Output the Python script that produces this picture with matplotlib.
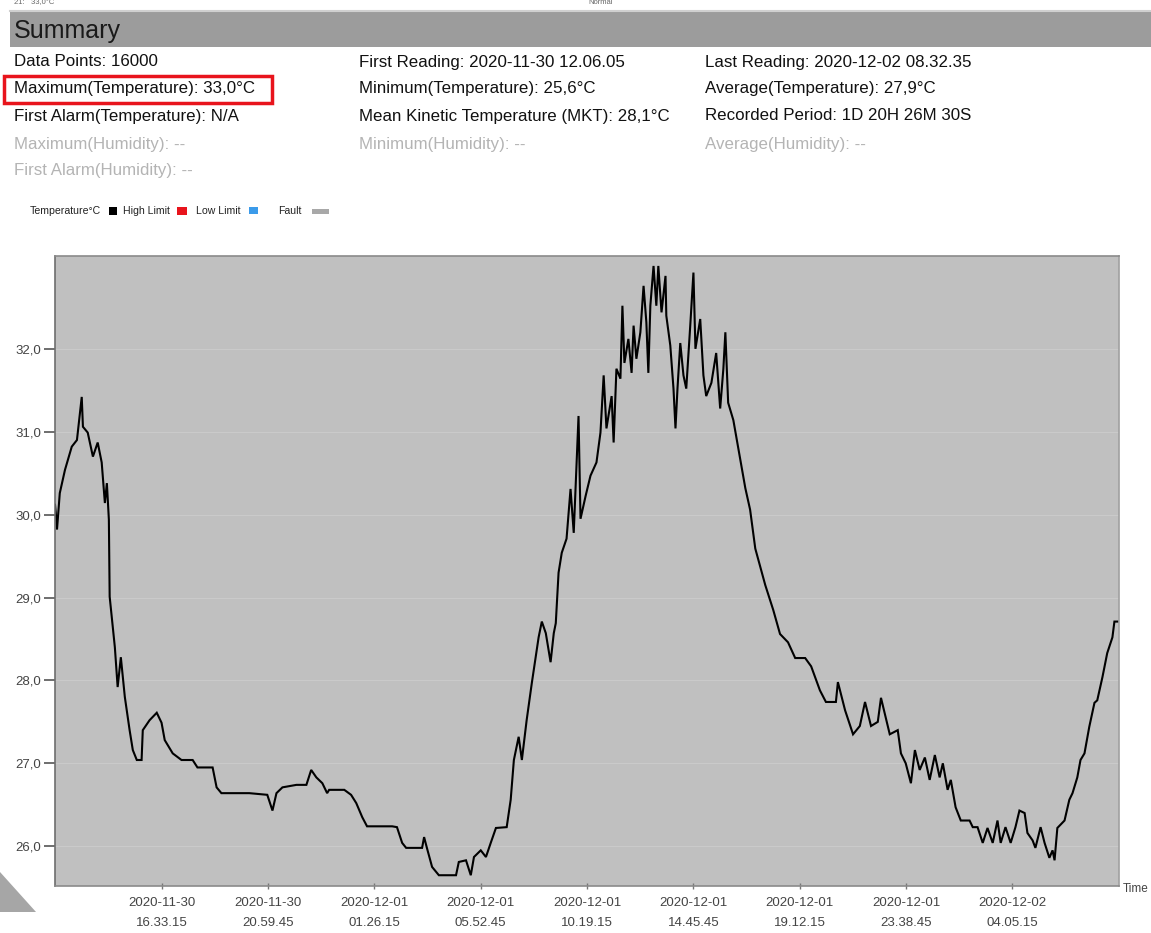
import matplotlib
matplotlib.use("Agg")
import matplotlib.pyplot as plt
from matplotlib.patches import Rectangle, Polygon
import pandas as pd

# Summary texts (three columns)
col1 = ["Data Points: 16000", "Maximum(Temperature): 33,0°C", "First Alarm(Temperature): N/A",
        "Maximum(Humidity): --", "First Alarm(Humidity): --"]
col2 = ["First Reading: 2020-11-30 12.06.05", "Minimum(Temperature): 25,6°C",
        "Mean Kinetic Temperature (MKT): 28,1°C", "Minimum(Humidity): --"]
col3 = ["Last Reading: 2020-12-02 08.32.35", "Average(Temperature): 27,9°C",
        "Recorded Period: 1D 20H 26M 30S", "Average(Humidity): --"]

first_reading = "2020-11-30 12:06:05"
last_reading = "2020-12-02 08:32:35"

# temperature trace (minutes after first reading, degC)
minutes = [0, 2, 5, 12, 25, 42, 55, 67, 70, 82, 95, 107, 117, 125, 130, 135, 137, 150, 157, 165,
           175, 187, 195, 205, 217, 220, 237, 255, 267, 275, 295, 317, 345, 357, 395, 405, 417, 487,
           532, 545, 555, 570, 605, 630, 642, 655, 670, 682, 687, 725, 742, 755, 770, 782, 845, 857,
           870, 880, 920, 925, 932, 945, 962, 1005, 1012, 1030, 1042, 1050, 1067, 1080, 1092, 1105,
           1132, 1142, 1150, 1162, 1170, 1182, 1195, 1212, 1220, 1230, 1242, 1250, 1255, 1262, 1270,
           1282, 1292, 1300, 1312, 1317, 1330, 1342, 1357, 1367, 1375, 1382, 1395, 1400, 1407, 1417,
           1422, 1427, 1437, 1445, 1450, 1457, 1467, 1475, 1482, 1487, 1492, 1500, 1507, 1512, 1520,
           1530, 1532, 1542, 1550, 1555, 1560, 1567, 1575, 1582, 1592, 1600, 1605, 1617, 1625, 1632,
           1645, 1657, 1667, 1675, 1680, 1687, 1700, 1712, 1730, 1742, 1755, 1780, 1800, 1817, 1837,
           1855, 1880, 1895, 1917, 1932, 1957, 1962, 1980, 2000, 2017, 2030, 2045, 2062, 2070, 2092,
           2112, 2120, 2132, 2145, 2155, 2167, 2180, 2192, 2205, 2217, 2225, 2237, 2245, 2257, 2270,
           2292, 2300, 2312, 2325, 2337, 2350, 2362, 2370, 2382, 2395, 2407, 2417, 2430, 2437, 2450,
           2457, 2470, 2480, 2492, 2500, 2505, 2512, 2530, 2542, 2550, 2562, 2570, 2580, 2592, 2605,
           2612, 2625, 2637, 2650, 2655, 2666]
temps = [30.12, 30.02, 29.82, 30.26, 30.54, 30.82, 30.90, 31.42, 31.06, 30.99, 30.70, 30.87, 30.63,
         30.14, 30.38, 29.94, 29.01, 28.40, 27.92, 28.28, 27.80, 27.40, 27.16, 27.04, 27.04, 27.40,
         27.52, 27.61, 27.49, 27.28, 27.12, 27.04, 27.04, 26.95, 26.95, 26.71, 26.64, 26.64, 26.62,
         26.43, 26.64, 26.71, 26.74, 26.74, 26.92, 26.83, 26.76, 26.64, 26.68, 26.68, 26.62, 26.52,
         26.35, 26.24, 26.24, 26.23, 26.04, 25.98, 25.98, 26.11, 25.98, 25.75, 25.65, 25.65, 25.81,
         25.83, 25.65, 25.87, 25.95, 25.87, 26.04, 26.22, 26.23, 26.56, 27.04, 27.32, 27.04, 27.52,
         27.97, 28.52, 28.71, 28.57, 28.22, 28.57, 28.69, 29.30, 29.54, 29.71, 30.31, 29.78, 31.19,
         29.95, 30.23, 30.47, 30.63, 30.99, 31.68, 31.04, 31.43, 30.87, 31.76, 31.64, 32.52, 31.83,
         32.12, 31.71, 32.28, 31.88, 32.20, 32.76, 32.32, 31.71, 32.52, 33.00, 32.52, 33.00, 32.44,
         32.88, 32.40, 32.04, 31.52, 31.04, 31.52, 32.07, 31.68, 31.52, 32.28, 32.92, 32.00, 32.36,
         31.68, 31.43, 31.59, 31.95, 31.28, 31.76, 32.20, 31.35, 31.14, 30.81, 30.32, 30.06, 29.59,
         29.15, 28.85, 28.56, 28.46, 28.27, 28.27, 28.17, 27.88, 27.74, 27.74, 27.98, 27.64, 27.35,
         27.45, 27.74, 27.45, 27.50, 27.79, 27.35, 27.40, 27.12, 27.00, 26.76, 27.16, 26.92, 27.07,
         26.80, 27.10, 26.83, 27.00, 26.68, 26.80, 26.47, 26.31, 26.31, 26.23, 26.23, 26.04, 26.22,
         26.04, 26.31, 26.04, 26.23, 26.04, 26.23, 26.43, 26.40, 26.16, 26.07, 25.98, 26.23, 26.04,
         25.86, 25.95, 25.83, 26.22, 26.31, 26.56, 26.64, 26.83, 27.04, 27.12, 27.44, 27.73, 27.76,
         28.04, 28.33, 28.52, 28.71, 28.71]

y_ticks = [26, 27, 28, 29, 30, 31, 32]
x_tick_labels = ["2020-11-30 16:33:15", "2020-11-30 20:59:45", "2020-12-01 01:26:15",
                 "2020-12-01 05:52:45", "2020-12-01 10:19:15", "2020-12-01 14:45:45",
                 "2020-12-01 19:12:15", "2020-12-01 23:38:45", "2020-12-02 04:05:15"]

W, H = 1151, 933
def fx(x):
    return x / W
def fy(y):
    return 1 - y / H

main_font = ["Liberation Sans", "DejaVu Sans"]

fig = plt.figure(figsize=(W / 100, H / 100), dpi=100)
fig.patch.set_facecolor("white")

# line from the page above, mostly scrolled away
fig.text(fx(14), fy(3), "21:   33,0°C", fontsize=5.5, color="#666666", family=main_font, va="center")
fig.text(fx(588), fy(3), "Normal", fontsize=5.5, color="#666666", family=main_font, va="center")

# summary header bar
fig.patches.append(Rectangle((fx(10), fy(47)), fx(1151) - fx(10), fy(12) - fy(47),
                             transform=fig.transFigure, facecolor="#9c9c9c", edgecolor="none"))
fig.lines.append(plt.Line2D([fx(10), 1], [fy(11), fy(11)], transform=fig.transFigure,
                            color="#d0d0d0", lw=1.5))
fig.text(fx(14), fy(31), "Summary", fontsize=18, color="#1a1a1a", family=main_font, va="center")

row_y = [62, 89, 116, 144, 171]
for col, x in [(col1, 14), (col2, 359), (col3, 705)]:
    for i, s in enumerate(col):
        c = "#b4b4b4" if "Humidity" in s else "#111111"
        fig.text(fx(x), fy(row_y[i]), s, fontsize=12.2, color=c, family=main_font, va="center")

# red highlight box
fig.patches.append(Rectangle((fx(4), fy(103)), fx(272) - fx(4), fy(76) - fy(103),
                             transform=fig.transFigure, facecolor="none", edgecolor="#e8141c", lw=2.5))

# legend row
ly = fy(211)
lf = 7.6
fig.text(fx(30), ly, "Temperature°C", fontsize=lf, color="#222222", family=main_font, va="center")
fig.patches.append(Rectangle((fx(109), fy(215)), fx(8), fx(8) * W / H, transform=fig.transFigure,
                             facecolor="black", edgecolor="none"))
fig.text(fx(123), ly, "High Limit", fontsize=lf, color="#222222", family=main_font, va="center")
fig.patches.append(Rectangle((fx(177), fy(215)), fx(10), fx(8) * W / H, transform=fig.transFigure,
                             facecolor="#e8141c", edgecolor="none"))
fig.text(fx(196), ly, "Low Limit", fontsize=lf, color="#222222", family=main_font, va="center")
fig.patches.append(Rectangle((fx(249), fy(214)), fx(9), fx(7) * W / H, transform=fig.transFigure,
                             facecolor="#3b9bea", edgecolor="none"))
fig.text(fx(278), ly, "Fault", fontsize=lf, color="#222222", family=main_font, va="center")
fig.patches.append(Rectangle((fx(312), fy(214)), fx(17), fx(5) * W / H, transform=fig.transFigure,
                             facecolor="#a8a8a8", edgecolor="none"))

# chart
ax = fig.add_axes([fx(55), fy(886), fx(1119) - fx(55), fy(256) - fy(886)])
ax.set_facecolor("#c0c0c0")

start = pd.Timestamp(first_reading)
times = start + pd.to_timedelta(minutes, unit="min")
ax.plot(times, temps, color="black", lw=1.5, solid_joinstyle="miter")

ax.set_xlim(start, pd.Timestamp(last_reading))
ax.set_ylim(25.52, 33.12)

ax.set_yticks(y_ticks)
ax.set_yticklabels([f"{v:.1f}".replace(".", ",") for v in y_ticks])
xt = pd.to_datetime(x_tick_labels)
ax.set_xticks(xt)
ax.set_xticklabels([t.strftime("%Y-%m-%d\n%H.%M.%S") for t in xt], linespacing=1.9)

ax.grid(axis="y", color="#cacaca", lw=0.8)
ax.set_axisbelow(True)
ax.tick_params(axis="y", length=8, width=1.2, color="#555555", pad=2, labelsize=9.5,
               labelcolor="#444444")
ax.tick_params(axis="x", length=4, width=1, color="#777777", direction="inout", pad=6,
               labelsize=9.5, labelcolor="#444444")
for lab in ax.get_xticklabels() + ax.get_yticklabels():
    lab.set_family(main_font)
for side, c in [("left", "#6e6e6e"), ("top", "#8a8a8a"), ("right", "#a0a0a0"), ("bottom", "#8a8a8a")]:
    ax.spines[side].set_color(c)
    ax.spines[side].set_linewidth(1.2)

fig.text(fx(1123), fy(889), "Time", fontsize=8.5, color="#444444", family=main_font, va="center")

# grey corner from the screenshot
fig.patches.append(Polygon([(fx(0), fy(872)), (fx(36), fy(912)), (fx(0), fy(912))], closed=True,
                           transform=fig.transFigure, facecolor="#a6a6a6", edgecolor="none"))

fig.savefig("out.png", dpi=100)
